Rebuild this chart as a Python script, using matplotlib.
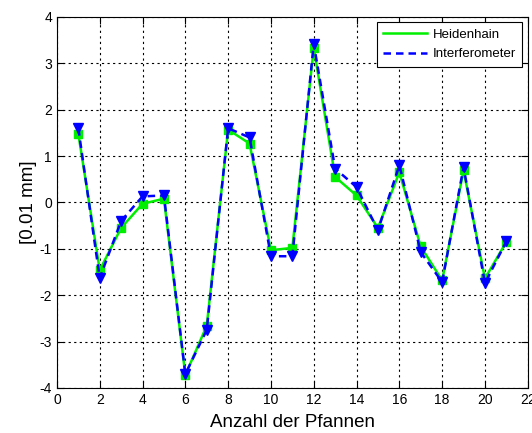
import matplotlib
matplotlib.use('Agg')
import matplotlib.pyplot as plt
import numpy as np

plt.rcParams['font.family'] = ['Liberation Sans', 'DejaVu Sans']
plt.rcParams['axes.unicode_minus'] = False

# Messpunkte je Pfanne
pfanne = np.arange(1, 22)
heidenhain = [1.48, -1.46, -0.55, -0.03, 0.08, -3.72, -2.66, 1.57, 1.27, -1.03,
              -0.98, 3.33, 0.55, 0.15, -0.55, 0.65, -0.95, -1.68, 0.69, -1.64, -0.85]
interferometer = [1.6, -1.63, -0.4, 0.13, 0.15, -3.7, -2.75, 1.6, 1.4, -1.16,
                  -1.16, 3.42, 0.73, 0.33, -0.6, 0.8, -1.07, -1.72, 0.76, -1.74, -0.84]

fig = plt.figure(figsize=(5.32, 4.33), dpi=100)
ax = fig.add_axes([0.107, 0.104, 0.885, 0.857])

ax.plot(pfanne, heidenhain, color='#00ee00', lw=1.8, marker='s', ms=6,
        mec='#00ee00', label='Heidenhain')
ax.plot(pfanne, interferometer, color='#0000ff', lw=1.8, ls='--', dashes=(3, 2),
        marker='v', ms=7, label='Interferometer')

ax.set_xlim(0, 22)
ax.set_ylim(-4, 4)
ax.set_xticks(range(0, 23, 2))
ax.set_yticks(range(-4, 5))
ax.grid(True, color='black', ls=(0, (2, 3)), lw=0.8)
ax.tick_params(direction='in', top=True, right=True, labelsize=10, length=5)
for s in ax.spines.values():
    s.set_linewidth(0.8)

ax.set_xlabel('Anzahl der Pfannen', fontsize=13.5, labelpad=5)
ax.set_ylabel('[0.01 mm]', fontsize=13.5, labelpad=2)

leg = ax.legend(loc='upper right', fontsize=9.5, fancybox=False, framealpha=1,
                edgecolor='black', handlelength=3.3, handletextpad=0.45,
                labelspacing=0.55, borderaxespad=0.4, borderpad=0.5)
leg.get_frame().set_linewidth(0.8)
for h in leg.legend_handles:
    h.set_marker('')

fig.savefig('out.png', dpi=100)
